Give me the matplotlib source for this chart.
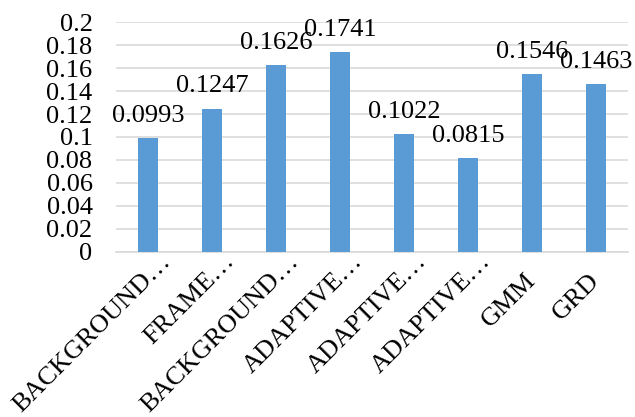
import matplotlib
matplotlib.use("Agg")
import matplotlib.pyplot as plt
from matplotlib.transforms import ScaledTranslation

plt.rcParams['font.family'] = ['Liberation Serif', 'DejaVu Serif']

categories = ["BACKGROUND…", "FRAME…", "BACKGROUND…", "ADAPTIVE…",
              "ADAPTIVE…", "ADAPTIVE…", "GMM", "GRD"]
values = [0.0993, 0.1247, 0.1626, 0.1741, 0.1022, 0.0815, 0.1546, 0.1463]
yticks = [0, 0.02, 0.04, 0.06, 0.08, 0.1, 0.12, 0.14, 0.16, 0.18, 0.2]
ytick_labels = ["0", "0.02", "0.04", "0.06", "0.08", "0.1", "0.12", "0.14",
                "0.16", "0.18", "0.2"]

FS = 19

fig = plt.figure(figsize=(6.35, 4.17), dpi=100)
ax = fig.add_axes([0.183, 0.396, 0.806, 0.551])

x = list(range(len(categories)))
ax.bar(x, values, width=0.31, color="#5B9BD5", zorder=3)

for xi, v in zip(x, values):
    ax.annotate(f"{v:.4f}", (xi, v), xytext=(0, 8), textcoords="offset points",
                ha="center", va="bottom", fontsize=FS, zorder=4)

ax.set_ylim(0, 0.2)
ax.set_xlim(-0.5, len(categories) - 0.5)
ax.set_yticks(yticks)
ax.set_yticklabels(ytick_labels, fontsize=FS)
ax.yaxis.grid(True, color="#D9D9D9", linewidth=1.2, zorder=0)
ax.set_axisbelow(True)
ax.tick_params(axis="y", length=0, pad=17)
ax.tick_params(axis="x", length=0, pad=18)
ax.set_xticks(x)
ax.set_xticklabels(categories, fontsize=FS, rotation=45, ha="right",
                   va="center", rotation_mode="anchor")

# truncated names hang their ellipsis past the category centre
for lbl in ax.get_xticklabels():
    if lbl.get_text().endswith("…"):
        lbl.set_transform(lbl.get_transform() +
                          ScaledTranslation(13.5 / 72, 13.5 / 72, fig.dpi_scale_trans))

for s in ["top", "right", "left"]:
    ax.spines[s].set_visible(False)
ax.spines["bottom"].set_color("#D9D9D9")
ax.spines["bottom"].set_linewidth(1.2)

fig.savefig("out.png", dpi=100)
